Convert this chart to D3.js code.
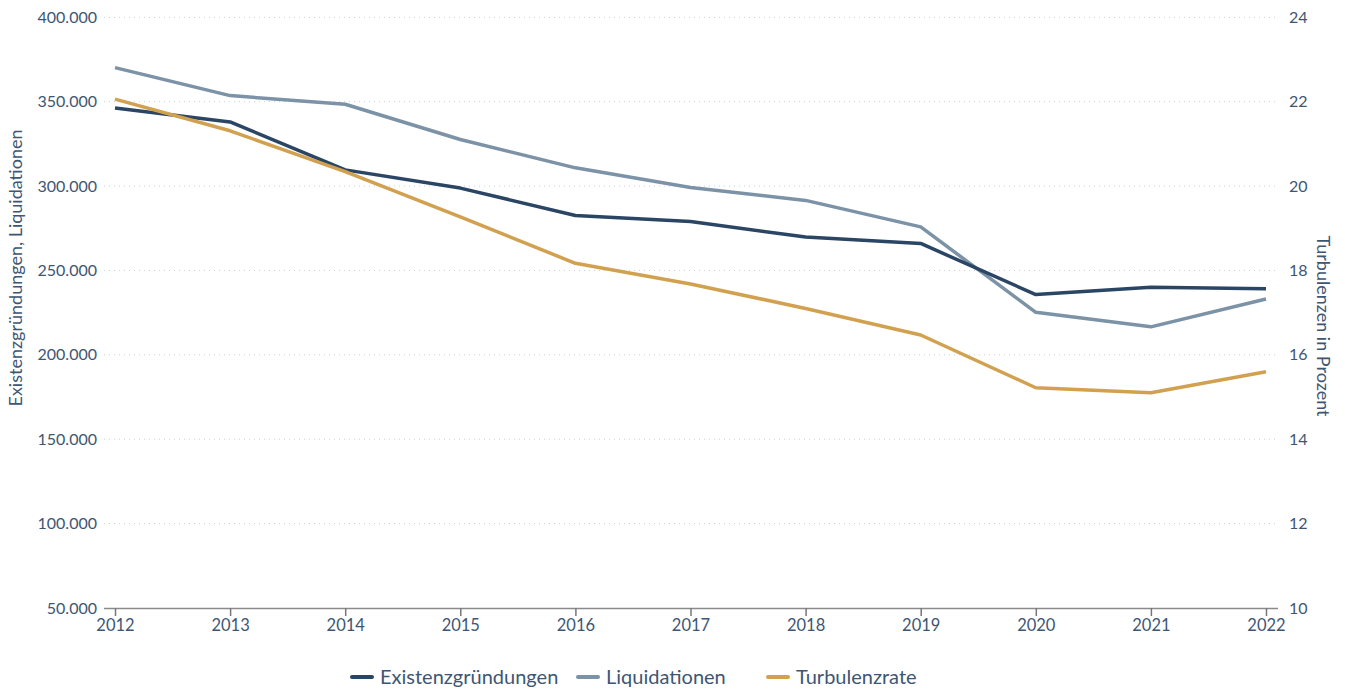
<!DOCTYPE html>
<html>
<head>
<meta charset="utf-8">
<script src="https://cdn.jsdelivr.net/npm/d3@7"></script>
<style>
  body { margin: 0; background: #fff; }
  svg { font-family: Lato, "Noto Sans", sans-serif; }
  .tick text { fill: #3e5674; }
</style>
</head>
<body>
<svg id="chart" width="1345" height="691"></svg>
<script>
var years = [2012, 2013, 2014, 2015, 2016, 2017, 2018, 2019, 2020, 2021, 2022];
var gruendungen = [346200, 338000, 309600, 298800, 282600, 279000, 269800, 266000, 235700, 240000, 239200];
var liquidationen = [370200, 353600, 348500, 327600, 310800, 299200, 291500, 275800, 225200, 216600, 233100];
var turbulenz = [22.06, 21.31, 20.34, 19.27, 18.17, 17.68, 17.10, 16.47, 15.22, 15.10, 15.60];
var leftTicks = [50000, 100000, 150000, 200000, 250000, 300000, 350000, 400000];
var rightTicks = [10, 12, 14, 16, 18, 20, 22, 24];

var colors = { gr: '#2b4564', liq: '#7b92a7', turb: '#d2a14f' };
var fmt = d3.format(',.0f');
function deNum(v) { return fmt(v).replace(/,/g, '.'); }

var svg = d3.select('#chart');
var plotLeft = 104, plotRight = 1278, plotTop = 17.3, plotBottom = 608;

var x = d3.scalePoint().domain(years).range([115, 1266]);
var yL = d3.scaleLinear().domain([50000, 400000]).range([plotBottom, plotTop]);
var yR = d3.scaleLinear().domain([10, 24]).range([plotBottom, plotTop]);

// dotted grid lines
svg.append('g')
  .selectAll('line')
  .data(leftTicks.slice(1))
  .enter()
  .append('line')
  .attr('x1', plotLeft)
  .attr('x2', plotRight)
  .attr('y1', function(d){ return yL(d); })
  .attr('y2', function(d){ return yL(d); })
  .style('stroke', '#c5d0db')
  .style('stroke-width', '1px')
  .style('stroke-dasharray', '1,4');

// left axis labels
var gl = svg.append('g')
  .attr('transform', 'translate(' + (plotLeft - 7) + ',0)')
  .call(d3.axisLeft(yL).tickValues(leftTicks).tickFormat(deNum).tickSize(0).tickPadding(0))
  .attr('font-family', null);
gl.select('.domain').remove();
gl.selectAll('text').style('font-size', '16px');

// right axis labels
var gr = svg.append('g')
  .attr('transform', 'translate(' + (plotRight + 11) + ',0)')
  .call(d3.axisRight(yR).tickValues(rightTicks).tickSize(0).tickPadding(0))
  .attr('font-family', null);
gr.select('.domain').remove();
gr.selectAll('text').style('font-size', '16px');

// x axis
var gx = svg.append('g')
  .attr('transform', 'translate(0,' + plotBottom + ')')
  .call(d3.axisBottom(x).tickSize(8).tickPadding(3).tickSizeOuter(0))
  .attr('font-family', null);
gx.select('.domain').attr('d', 'M' + plotLeft + ',0.5H' + plotRight).style('stroke', '#8a8a8a').style('stroke-width', '1.5px');
gx.selectAll('.tick line').style('stroke', '#777').style('stroke-width', '1.5px');
gx.selectAll('text').style('font-size', '16.5px');

// axis titles
svg.append('text')
  .attr('transform', 'translate(22,268) rotate(-90)')
  .attr('text-anchor', 'middle')
  .style('font-size', '18px')
  .style('fill', '#3e5674')
  .text('Existenzgründungen, Liquidationen');

svg.append('text')
  .attr('transform', 'translate(1317,326) rotate(90)')
  .attr('text-anchor', 'middle')
  .style('font-size', '18px')
  .style('fill', '#3e5674')
  .text('Turbulenzen in Prozent');

// lines
var series = [
  { key: 'liq', values: liquidationen, y: yL },
  { key: 'gr', values: gruendungen, y: yL },
  { key: 'turb', values: turbulenz, y: yR }
];

series.forEach(function(s) {
  var line = d3.line()
    .x(function(d, i){ return x(years[i]); })
    .y(function(d){ return s.y(d); });
  svg.append('path')
    .datum(s.values)
    .attr('d', line)
    .style('fill', 'none')
    .style('stroke', colors[s.key])
    .style('stroke-width', '3.5px')
    .style('stroke-linejoin', 'round');
});

// legend
var legend = [
  { key: 'gr', label: 'Existenzgründungen', x: 352 },
  { key: 'liq', label: 'Liquidationen', x: 578 },
  { key: 'turb', label: 'Turbulenzrate', x: 768 }
];
var lg = svg.append('g')
  .selectAll('g')
  .data(legend)
  .enter()
  .append('g')
  .attr('transform', function(d){ return 'translate(' + d.x + ',677)'; });
lg.append('line')
  .attr('x1', 0).attr('x2', 20)
  .style('stroke', function(d){ return colors[d.key]; })
  .style('stroke-width', '4px')
  .style('stroke-linecap', 'round');
lg.append('text')
  .attr('x', 28)
  .attr('dy', '0.35em')
  .style('font-size', '20px')
  .style('fill', '#3e5674')
  .text(function(d){ return d.label; });
</script>
</body>
</html>
